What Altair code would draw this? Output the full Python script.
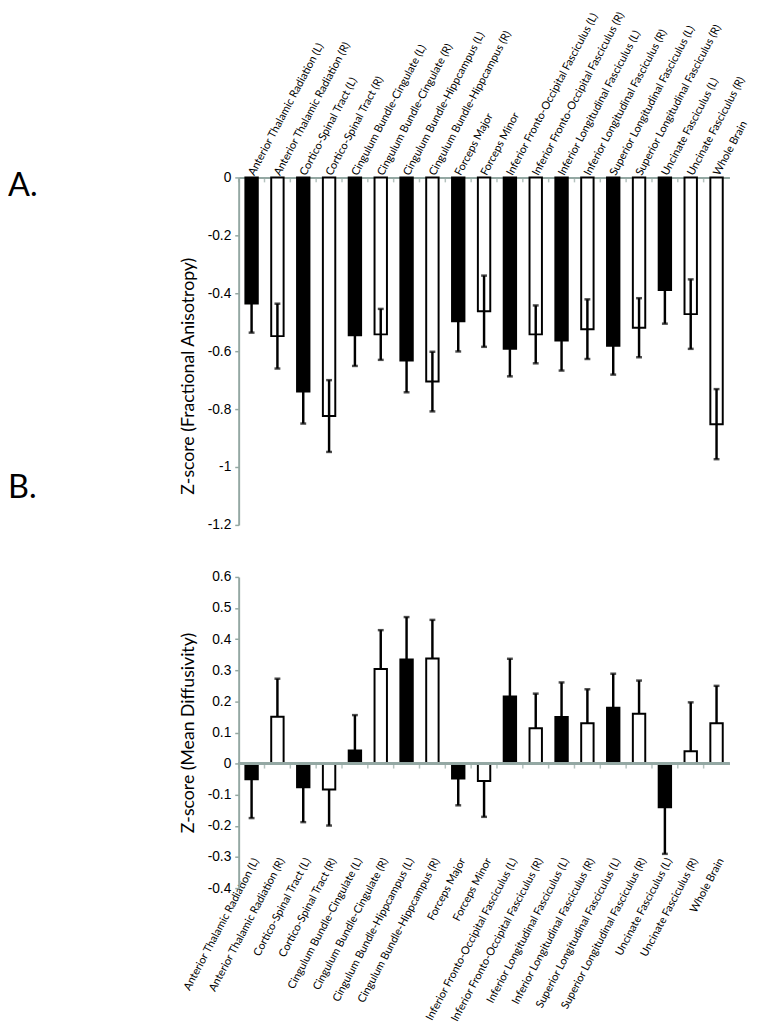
import altair as alt
import pandas as pd

tracts = [
    "Anterior Thalamic Radiation (L)", "Anterior Thalamic Radiation (R)",
    "Cortico-Spinal Tract (L)", "Cortico-Spinal Tract (R)",
    "Cingulum Bundle-Cingulate (L)", "Cingulum Bundle-Cingulate (R)",
    "Cingulum Bundle-Hippcampus (L)", "Cingulum Bundle-Hippcampus (R)",
    "Forceps Major", "Forceps Minor",
    "Inferior Fronto-Occipital Fasciculus (L)", "Inferior Fronto-Occipital Fasciculus (R)",
    "Inferior Longitudinal Fasciculus (L)", "Inferior Longitudinal Fasciculus (R)",
    "Superior Longitudinal Fasciculus (L)", "Superior Longitudinal Fasciculus (R)",
    "Uncinate Fasciculus (L)", "Uncinate Fasciculus (R)",
    "Whole Brain",
]
fill_group = ["dark", "light", "dark", "light", "dark", "light", "dark", "light",
              "dark", "light", "dark", "light", "dark", "light", "dark", "light",
              "dark", "light", "light"]

fa_mean = [-0.435, -0.548, -0.739, -0.824, -0.545, -0.542, -0.632, -0.705,
           -0.497, -0.462, -0.592, -0.542, -0.563, -0.524, -0.581, -0.519,
           -0.389, -0.472, -0.852]
fa_err = [0.101, 0.112, 0.111, 0.124, 0.106, 0.088, 0.110, 0.103,
          0.104, 0.123, 0.095, 0.100, 0.104, 0.103, 0.100, 0.102,
          0.116, 0.120, 0.121]

md_mean = [-0.050, 0.151, -0.076, -0.083, 0.042, 0.304, 0.335, 0.338,
           -0.048, -0.056, 0.216, 0.114, 0.150, 0.130, 0.180, 0.160,
           -0.140, 0.040, 0.130]
md_err = [0.125, 0.122, 0.112, 0.116, 0.114, 0.125, 0.136, 0.124,
          0.086, 0.115, 0.121, 0.111, 0.111, 0.109, 0.109, 0.107,
          0.150, 0.157, 0.120]

fa_ticks = [0, -0.2, -0.4, -0.6, -0.8, -1.0, -1.2]
md_ticks = [0.6, 0.5, 0.4, 0.3, 0.2, 0.1, 0, -0.1, -0.2, -0.3, -0.4]

dfA = pd.DataFrame({"tract": tracts, "grp": fill_group, "v": fa_mean, "e": fa_err})
dfA["lo"] = dfA["v"] - dfA["e"]
dfA["hi"] = dfA["v"] + dfA["e"]

dfB = pd.DataFrame({"tract": tracts, "grp": fill_group, "v": md_mean, "e": md_err})
dfB["end"] = [v + (e if v >= 0 else -e) for v, e in zip(md_mean, md_err)]

AXIS_GRAY = "#94a8a3"
LABEL_FONT = "Lato"
CAT_SIZE = 11.2
W, HA, HB = 500, 354, 317
STEP = W / len(tracts)

xscale = alt.Scale(domain=tracts, paddingInner=0.52, paddingOuter=0.26)
fill_scale = alt.Scale(domain=["dark", "light"], range=["black", "white"])
minus_fix = "replace(format(datum.value, '.1~f'), '\u2212', '-')"
yA_scale = alt.Scale(domain=[-1.2, 0], nice=False)
yB_scale = alt.Scale(domain=[-0.4, 0.6], nice=False)


def yaxis(title, values, title_y=None):
    kw = dict(
        title=title, values=values, tickCount=len(values),
        labelExpr=minus_fix, labelOverlap=False,
        labelFont="Liberation Sans", labelFontSize=14, labelColor="black",
        titleFont=LABEL_FONT, titleFontSize=18, titleFontWeight="normal",
        titleColor="black", titlePadding=10,
        domainColor=AXIS_GRAY, domainWidth=2, tickColor=AXIS_GRAY,
        tickSize=4, tickWidth=1.5, grid=False, labelPadding=4,
    )
    if title_y is not None:
        kw["titleY"] = title_y
    return alt.Axis(**kw)


axA = yaxis("Z-score (Fractional Anisotropy)", fa_ticks, title_y=202)
axB = yaxis("Z-score (Mean Diffusivity)", md_ticks)

axXA = alt.Axis(orient="top", labelAngle=298, labelAlign="left",
                labelBaseline="middle", labelFont=LABEL_FONT,
                labelFontSize=CAT_SIZE, labelColor="black", labelPadding=3,
                ticks=False, domainColor=AXIS_GRAY, domainWidth=2,
                labelLimit=400, labelOverlap=False)
axXB = alt.Axis(orient="bottom", labelAngle=298, labelAlign="right",
                labelBaseline="middle", labelFont=LABEL_FONT,
                labelFontSize=CAT_SIZE, labelColor="black", labelPadding=-30,
                labelOffset=5, ticks=False, domain=False, labelLimit=400,
                labelOverlap=False)


def xA():
    return alt.X("tract:N", scale=xscale, sort=tracts, title=None, axis=axXA)


def xB():
    return alt.X("tract:N", scale=xscale, sort=tracts, title=None, axis=axXB)


def yA(field):
    return alt.Y(field, type="quantitative", scale=yA_scale, axis=axA)


def yB(field):
    return alt.Y(field, type="quantitative", scale=yB_scale, axis=axB)


# ---------- Panel A ----------
baseA = alt.Chart(dfA)
barsA = baseA.mark_bar(stroke="black", strokeWidth=2).encode(
    x=xA(), y=yA("v"), y2=alt.datum(0),
    fill=alt.Fill("grp:N", scale=fill_scale, legend=None),
)
errA = baseA.mark_rule(color="black", strokeWidth=2.5).encode(
    x=xA(), y=yA("lo"), y2="hi:Q")
capA_lo = baseA.mark_tick(color="black", thickness=2.5, size=6).encode(
    x=xA(), y=yA("lo"))
capA_hi = baseA.mark_tick(color="black", thickness=2.5, size=6).encode(
    x=xA(), y=yA("hi"))
bticksA = baseA.mark_tick(color=AXIS_GRAY, thickness=1.5, size=4,
                          orient="vertical", xOffset=-STEP / 2, yOffset=3).encode(
    x=xA(), y=alt.YDatum(0, scale=yA_scale, axis=axA))

one = alt.Data(values=[{"k": 1}])
labA = alt.Chart(one).mark_text(text="A.", font=LABEL_FONT, fontSize=33,
                                align="left", baseline="middle", color="black").encode(
    x=alt.value(-235), y=alt.value(9))
labB = alt.Chart(one).mark_text(text="B.", font=LABEL_FONT, fontSize=33,
                                align="left", baseline="middle", color="black").encode(
    x=alt.value(-235), y=alt.value(317))

panelA = alt.layer(barsA, errA, capA_lo, capA_hi, bticksA, labA, labB).properties(
    width=W, height=HA)

# ---------- Panel B ----------
baseB = alt.Chart(dfB)
barsB = baseB.mark_bar(stroke="black", strokeWidth=2).encode(
    x=xB(), y=yB("v"), y2=alt.datum(0),
    fill=alt.Fill("grp:N", scale=fill_scale, legend=None),
)
zeroB = baseB.mark_rule(color=AXIS_GRAY, strokeWidth=2).encode(
    y=alt.YDatum(0, scale=yB_scale, axis=axB))
errB = baseB.mark_rule(color="black", strokeWidth=2.5).encode(
    x=xB(), y=yB("v"), y2="end:Q")
capB = baseB.mark_tick(color="black", thickness=2.5, size=6).encode(
    x=xB(), y=yB("end"))
bticksB = baseB.mark_tick(color=AXIS_GRAY, thickness=1.5, size=4,
                          orient="vertical", xOffset=-STEP / 2, yOffset=3).encode(
    x=xB(), y=alt.YDatum(0, scale=yB_scale, axis=axB))

panelB = alt.layer(barsB, zeroB, errB, capB, bticksB).properties(width=W, height=HB)

chart = alt.vconcat(panelA, panelB, spacing=39).properties(
    padding={"top": -8, "left": 0, "right": 5, "bottom": 0}
).configure_view(stroke=None)

chart.save("out.html", embed_options={"renderer": "svg", "actions": False})
